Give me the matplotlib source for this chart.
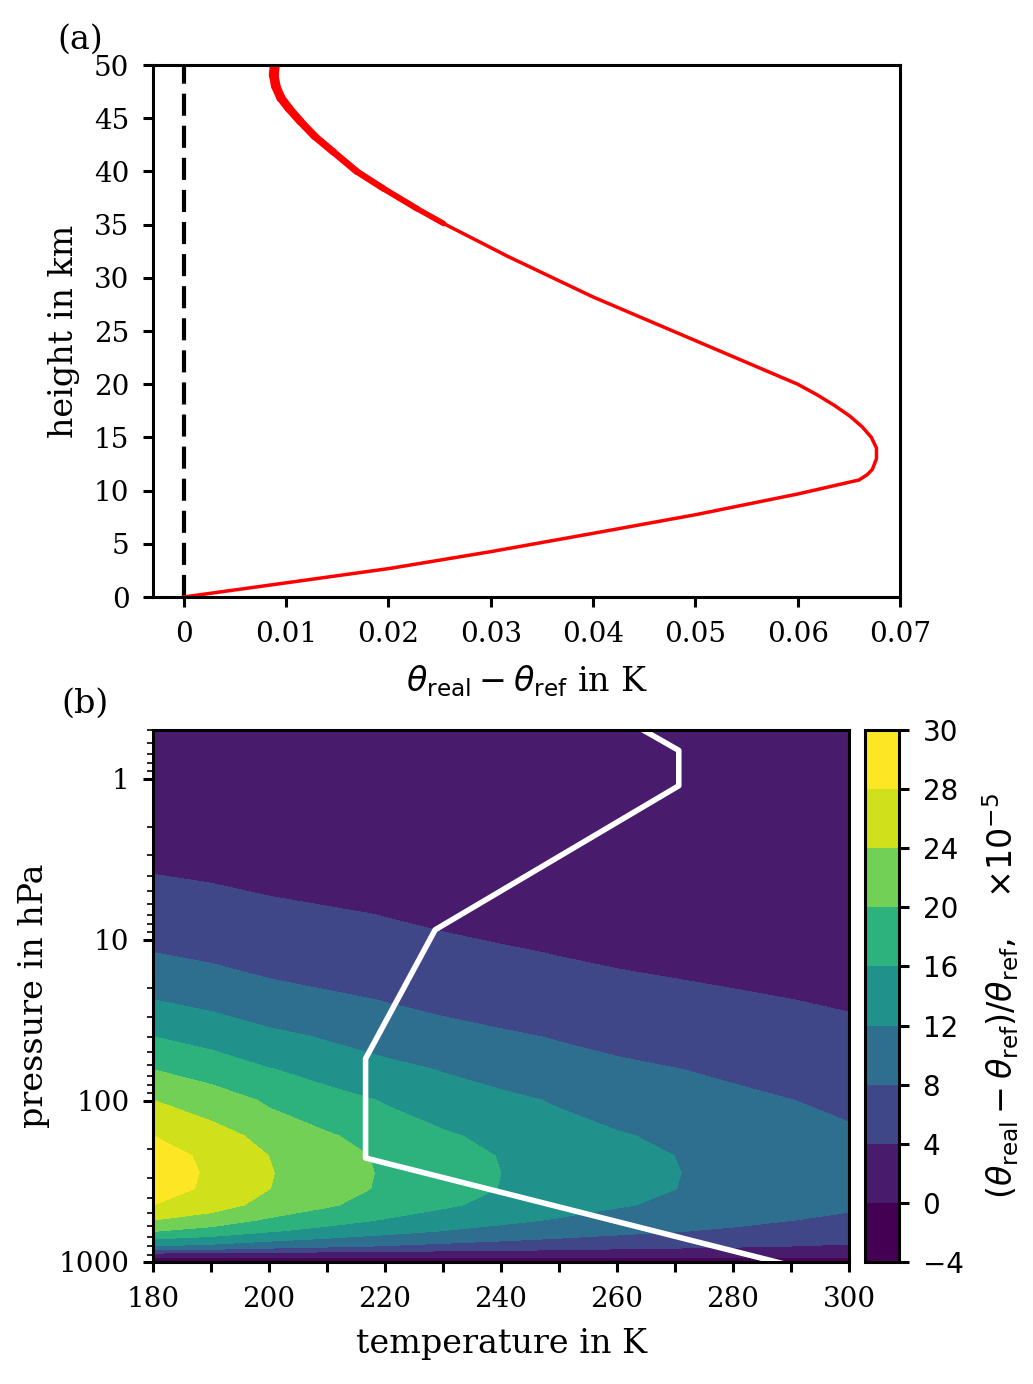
# -*- coding: utf-8 -*-
"""
Profile of the potential temperature difference and the relative
difference against temperature and pressure.
"""
# %% IMPORT STATEMENTS
import numpy as np
import matplotlib
matplotlib.use('Agg')
import matplotlib.pyplot as plt
from matplotlib.colors import Normalize
from matplotlib.ticker import FormatStrFormatter, NullFormatter

# %% DATA

# panel (a): theta_real - theta_ref (K) against height (km), thin part
height_low = [0.0, 1.33, 2.68, 4.26, 6.0, 7.73, 9.68, 11.0, 11.5, 12.0,
              13.0, 14.0, 15.0, 16.0, 17.0, 18.0, 19.0, 20.0, 24.1, 28.2,
              32.0, 35.1]
dtheta_low = [0.0, 0.010, 0.0201, 0.030, 0.0401, 0.050, 0.060, 0.0660,
              0.0668, 0.0673, 0.0677, 0.0677, 0.0672, 0.0663, 0.0651,
              0.0636, 0.0619, 0.0600, 0.050, 0.040, 0.0317, 0.0254]

# upper, noisy part (drawn thicker)
height_high = [35.1, 36.5, 38.4, 40.0, 41.85, 43.3, 44.7, 45.9, 46.9, 48.0,
               49.06, 50.0]
dtheta_high = [0.0254, 0.0228, 0.0195, 0.0169, 0.0146, 0.0128, 0.0114,
               0.0103, 0.0095, 0.0090, 0.0088, 0.0089]

# panel (b): relative difference (x1e-5), read as a profile at 180 K ...
pressure = [0.5, 1.0, 2.0, 3.93, 7.0, 12.0, 23.6, 40.0, 64.0, 99.0, 165.0,
            220.0, 280.0, 350.0, 443.0, 550.0, 646.0, 720.0, 795.0, 842.0,
            880.0, 944.0, 1000.0]
profile_180 = [1.2, 1.6, 2.6, 4.0, 6.0, 8.0, 12.0, 16.0, 20.0, 24.0, 28.0,
               29.6, 29.9, 29.7, 28.0, 24.0, 20.0, 16.0, 12.0, 8.0, 4.0,
               0.0, -1.5]
# ... and its fall-off with temperature
temperature = [180, 190, 200, 210, 220, 230, 240, 250, 260, 270, 280, 290,
               300]
temp_factor = [1.0, 0.92, 0.81, 0.73, 0.655, 0.59, 0.535, 0.485, 0.44,
               0.405, 0.37, 0.335, 0.305]

# standard atmosphere temperature profile (white line)
std_temp = [288.15, 216.65, 216.65, 228.65, 270.65, 270.65, 264.5]
std_pres = [1013.25, 226.3, 54.75, 8.68, 1.109, 0.669, 0.5]

levels = [-4, 0, 4, 8, 12, 16, 20, 24, 28, 30]

x_ticks_a = [0, 0.01, 0.02, 0.03, 0.04, 0.05, 0.06, 0.07]
y_ticks_a = [0, 5, 10, 15, 20, 25, 30, 35, 40, 45, 50]
x_ticks_b = [180, 190, 200, 210, 220, 230, 240, 250, 260, 270, 280, 290,
             300]
x_labels_b = ['180', '', '200', '', '220', '', '240', '', '260', '', '280',
              '', '300']
y_ticks_b = [1, 10, 100, 1000]

# %% FIGURE
plt.rcParams['font.family'] = 'serif'
plt.rcParams['font.serif'] = ['DejaVu Serif']
plt.rcParams['axes.linewidth'] = 1.1
plt.rcParams['xtick.major.width'] = 1.1
plt.rcParams['ytick.major.width'] = 1.1
plt.rcParams['xtick.major.pad'] = 5
plt.rcParams['ytick.major.pad'] = 5
plt.rcParams['xtick.labelsize'] = 10
plt.rcParams['ytick.labelsize'] = 10

W, H = 1033, 1384
fig = plt.figure(figsize=(W / 200, H / 200), dpi=200)

ax1 = fig.add_axes([153 / W, 1 - 597 / H, 747 / W, 532 / H])
ax2 = fig.add_axes([153 / W, 1 - 1262 / H, 696 / W, 532 / H])
cax = fig.add_axes([865 / W, 1 - 1262 / H, 34 / W, 532 / H])

# %% PANEL (a)
ax1.axvline(0, color='k', lw=1.5, ls=(0, (5.3, 2.4)))
ax1.plot(dtheta_low, height_low, color='red', lw=1.25)
n_seg = len(height_high) - 1
widths = np.linspace(2.0, 3.6, n_seg)
for i in range(n_seg):
    ax1.plot(dtheta_high[i:i + 2], height_high[i:i + 2], color='red',
             lw=widths[i], solid_capstyle='round')
ax1.set_xlim(-0.003, 0.07)
ax1.set_ylim(0, 50)
ax1.set_xticks(x_ticks_a)
ax1.set_yticks(y_ticks_a)
ax1.xaxis.set_major_formatter(FormatStrFormatter('%g'))
ax1.set_xlabel(r'$\theta_{\rm real} - \theta_{\rm ref}$ in K', fontsize=12,
               labelpad=5.5)
ax1.set_ylabel('height in km', fontsize=12, labelpad=5)

# %% PANEL (b)
field = np.outer(profile_180, temp_factor)
cf = ax2.contourf(temperature, pressure, field, levels=levels,
                  cmap='viridis', norm=Normalize(vmin=0, vmax=28))
ax2.plot(std_temp, std_pres, color='white', lw=2.0)
ax2.set_yscale('log')
ax2.set_xlim(180, 300)
ax2.set_ylim(1000, 0.5)
ax2.set_yticks(y_ticks_b)
ax2.yaxis.set_major_formatter(FormatStrFormatter('%g'))
ax2.yaxis.set_minor_formatter(NullFormatter())
ax2.set_xticks(x_ticks_b)
ax2.set_xticklabels(x_labels_b)
ax2.set_xlabel('temperature in K', fontsize=12, labelpad=5.5)
ax2.set_ylabel('pressure in hPa', fontsize=12, labelpad=3)

cbar = fig.colorbar(cf, cax=cax, ticks=levels)
cbar.outline.set_linewidth(1.1)
for t in cax.get_yticklabels():
    t.set_family('DejaVu Sans')
cbar.set_label(r'$(\theta_{\rm real} - \theta_{\rm ref})/\theta_{\rm ref},'
               r'\quad {\times}10^{-5}$', fontsize=12, labelpad=6)

fig.text(80 / W, 1 - 40 / H, '(a)', fontsize=12, ha='center', va='center')
fig.text(85 / W, 1 - 704 / H, '(b)', fontsize=12, ha='center', va='center')

fig.savefig('out.png', dpi=200)
